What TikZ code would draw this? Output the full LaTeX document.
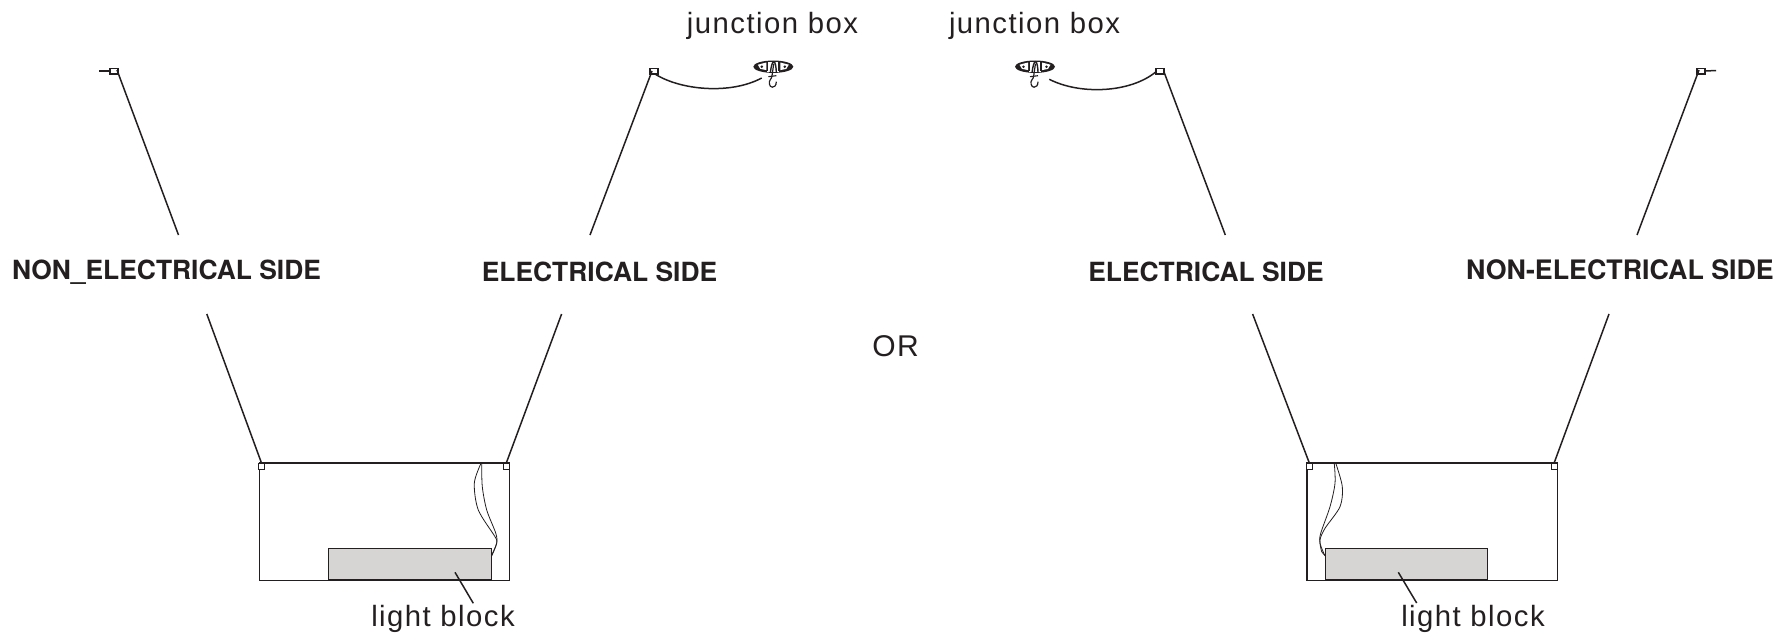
\documentclass[tikz,border=0pt]{standalone}
\usepackage{fontspec}
\setmainfont{TeX Gyre Heros}
\newfontfamily\lblfont[LetterSpace=5]{Liberation Sans}
\definecolor{ink}{HTML}{231F20}
\definecolor{blockgray}{HTML}{D6D5D3}
\tikzset{
  x=1pt,y=-1pt,
  wire/.style={draw=ink,line width=1.5pt},
  thin wire/.style={draw=ink,line width=0.8pt},
  tiny box/.style={draw=ink,line width=1.1pt,fill=white,rectangle,inner sep=0,minimum width=6pt,minimum height=6pt},
  canopy/.style={draw=ink,line width=1.5pt,fill=white,rectangle,inner sep=0,minimum width=8pt,minimum height=5.5pt},
  side label/.style={font=\fontsize{26.4}{30}\selectfont\bfseries,text=ink,inner sep=0,anchor=base},
  small label/.style={font=\fontsize{29.3}{32}\lblfont,text=ink,inner sep=0,anchor=base},
}
\newcommand{\jbox}[1]{%
  \begin{scope}[shift={(#1)}]
    \fill[ink] (0,0) ellipse [x radius=20,y radius=6.2];
    \fill[white] (-15.5,-2) -- (-7,-4.2) -- (-7,3.4) -- (-13,2.2) -- cycle;
    \fill[white] (15.5,-2) -- (7,-4.2) -- (7,3.4) -- (13,2.2) -- cycle;
    \fill[ink] (-11.5,0) circle (1.4) (11.5,0) circle (1.4);
    \fill[white] (-6,-4.4) rectangle (6,5);
    \draw[ink,line width=1.2pt] (-5.5,-5) -- (-5.5,4.5) (5.5,-5) -- (5.5,4.5);
    \draw[ink,line width=1.4pt] (-3,6) .. controls (-2,-1) and (-1,-5) .. (0.5,-5) .. controls (2,-5) and (3,1) .. (3,6);
    \draw[ink,line width=1.2pt] (0.5,-3) .. controls (-1,5) and (-1,12) .. (-3,13) .. controls (-5,15) and (-4,20.5) .. (-1,20.5) .. controls (1,20.5) and (3,19) .. (3,15);
    \draw[ink,line width=1.1pt] (-5,10) -- (3,9);
  \end{scope}}
\begin{document}
\begin{tikzpicture}
\useasboundingbox (0,0) rectangle (1779,632);

% ---- Left lamp
\node[canopy] (lLc) at (114,71) {};
\node[canopy] (lRc) at (654,71) {};
\coordinate (lLend) at (99,71);
\coordinate (lLa) at (178.5,235);
\coordinate (lLb) at (206.8,314);
\coordinate (lRa) at (590,235);
\coordinate (lRb) at (561.6,314);
\coordinate (lRcorner) at (652,71);
\coordinate (lLcorner) at (117,70);
\coordinate (jA) at (655,74);
\coordinate (jB) at (761.7,78);
\draw[wire] (lLend) -- (lLc.west);
\draw[wire] (lLcorner) -- (lLa);
\draw[wire] (lRcorner) -- (lRa);
\draw[wire] (jA) .. controls (680,90) and (730,95) .. (jB);
\jbox{773.3,66.7}
\node[rectangle,minimum width=250.2pt,minimum height=117pt,inner sep=0,draw=ink,line width=1.4pt,anchor=north west] (lLamp) at (258.6,463) {};
\draw[ink,line width=2.5pt] (lLamp.north west) -- (lLamp.north east);
\node[tiny box] (lLsq) at (261.4,466.3) {};
\node[tiny box,minimum height=6.5pt] (lRsq) at (506.4,466.5) {};
\draw[wire] (lLb) -- (lLsq.north);
\draw[wire] (lRb) -- (lRsq.north);
\node[fill=blockgray,draw=ink,line width=1pt,inner sep=0,minimum width=162.3pt,minimum height=31pt,anchor=south west] (lBlock) at (328.4,580) {};
\draw[thin wire] plot[smooth] coordinates {(480.7,464) (474.3,483.3) (478.3,510) (495,536.7) (496.7,543.3) (491.7,556)};
\draw[thin wire] plot[smooth] coordinates {(481.7,464) (482.3,486.7) (486.7,510) (495.7,533) (496.7,543) (491.7,555)};
\coordinate (lPoint) at (455,572.3);
\node[small label] (lText) at (443,626.3) {light block};
\draw[wire] (lPoint) -- (473.3,603.3);

% ---- Right lamp
\node[canopy] (rLc) at (1160,71) {};
\node[canopy] (rRc) at (1701,71) {};
\coordinate (rRend) at (1716,70.5);
\coordinate (rLa) at (1225.3,235);
\coordinate (rLb) at (1252.6,314);
\coordinate (rRa) at (1637,235);
\coordinate (rRb) at (1609,314);
\coordinate (rLcorner) at (1164,72);
\coordinate (rRcorner) at (1699,70);
\coordinate (kA) at (1155.7,72);
\coordinate (kB) at (1049.3,79.3);
\draw[wire] (rRc.east) -- (rRend);
\draw[wire] (rLcorner) -- (rLa);
\draw[wire] (rRcorner) -- (rRa);
\draw[wire] (kB) .. controls (1080,95) and (1130,93) .. (kA);
\jbox{1035,66.7}
\node[rectangle,minimum width=250.5pt,minimum height=117pt,inner sep=0,draw=ink,line width=1.4pt,anchor=north west] (rLamp) at (1306.4,463) {};
\draw[ink,line width=2.5pt] (rLamp.north west) -- (rLamp.north east);
\node[tiny box,minimum height=6.5pt] (rLsq) at (1309.2,466.5) {};
\node[tiny box] (rRsq) at (1554.2,466.3) {};
\draw[wire] (rLb) -- (rLsq.north);
\draw[wire] (rRb) -- (rRsq.north);
\node[fill=blockgray,draw=ink,line width=1pt,inner sep=0,minimum width=162pt,minimum height=31pt,anchor=south west] (rBlock) at (1325.4,580) {};
\draw[thin wire] plot[smooth] coordinates {(1334.3,464) (1335,483.3) (1330,506.7) (1320.7,533.3) (1320,543.3) (1325,556)};
\draw[thin wire] plot[smooth] coordinates {(1336,464) (1342.3,486.7) (1340,506.7) (1325,528.3) (1320,540) (1321.7,551.7) (1325,555)};
\coordinate (rPoint) at (1398.3,572.3);
\node[small label] (rText) at (1473,626.3) {light block};
\draw[wire] (rPoint) -- (1416.7,603);

% ---- Labels
\node[side label] (t1) at (166.5,279) {NON\_ELECTRICAL SIDE};
\node[side label] (t2) at (599.5,281) {ELECTRICAL SIDE};
\node[side label] (t3) at (1206,281) {ELECTRICAL SIDE};
\node[side label,font=\fontsize{26.8}{30}\selectfont\bfseries] (t4) at (1620,279) {NON-ELECTRICAL SIDE};
\node[small label] (t5) at (772.5,33) {junction box};
\node[small label] (t6) at (1034.5,33) {junction box};
\node[font=\fontsize{30}{32}\lblfont,text=ink,inner sep=0,anchor=base] (orT) at (895.5,356) {OR};
\end{tikzpicture}
\end{document}
